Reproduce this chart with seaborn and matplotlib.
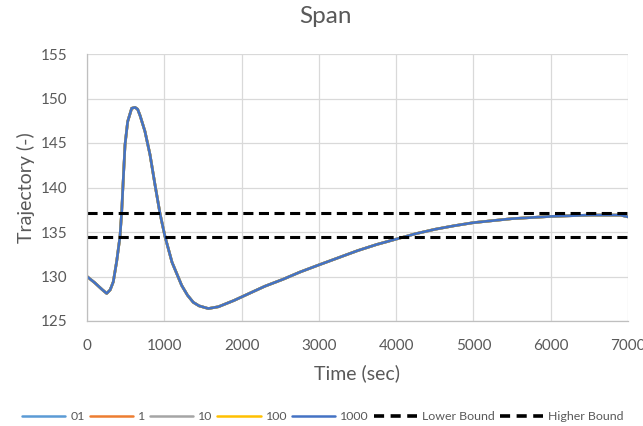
import matplotlib
matplotlib.use("Agg")
import matplotlib.pyplot as plt
from matplotlib.lines import Line2D
import seaborn as sns
import pandas as pd

# ---- data ----
time_sec = [0, 100, 200, 255, 300, 340, 384, 427, 449, 470, 492, 526, 578, 621, 655, 686, 750,
            815, 880, 944, 1009, 1100, 1225, 1300, 1375, 1450, 1570, 1700, 1900, 2100, 2300,
            2540, 2756, 3000, 3250, 3500, 3750, 4000, 4250, 4500, 4750, 5000, 5500,
            6000, 6500, 6900, 7000]
trajectory = [130.0, 129.3, 128.5, 128.1, 128.5, 129.4, 131.7, 134.5, 137.3, 141.0, 144.8,
              147.4, 148.9, 149.0, 148.8, 148.1, 146.3, 143.7, 140.3, 137.1, 134.5, 131.6, 129.0,
              127.9, 127.1, 126.7, 126.4, 126.6, 127.3, 128.1, 128.9, 129.7, 130.5, 131.3,
              132.1, 132.9, 133.6, 134.2, 134.8, 135.3, 135.7, 136.05, 136.5,
              136.75, 136.9, 136.9, 136.7]
series_names = ["01", "1", "10", "100", "1000"]
lower_bound = 134.4
higher_bound = 137.1
x_ticks = [0, 1000, 2000, 3000, 4000, 5000, 6000, 7000]
y_ticks = [125, 130, 135, 140, 145, 150, 155]

colors = ["#5B9BD5", "#ED7D31", "#A5A5A5", "#FFC000", "#4472C4"]
text_color = "#595959"

sns.set_theme(style="whitegrid")
plt.rcParams['font.family'] = ['Lato', 'DejaVu Sans']

rows = []
for name in series_names:
    for t, v in zip(time_sec, trajectory):
        rows.append({"Time": t, "Trajectory": v, "Series": name})
df = pd.DataFrame(rows)

fig = plt.figure(figsize=(6.43, 4.26), dpi=100)
ax = fig.add_axes([87/643, 1 - 321/426, (628-87)/643, (321-54)/426])

sns.lineplot(data=df, x="Time", y="Trajectory", hue="Series", hue_order=series_names,
             palette=colors, linewidth=1.9, ax=ax, legend=False)
dash = (0, (3.3, 1.8))
ax.plot([0, 7000], [lower_bound, lower_bound], color="black", linestyle=dash,
        linewidth=2.2, label="Lower Bound")
ax.plot([0, 7000], [higher_bound, higher_bound], color="black", linestyle=dash,
        linewidth=2.2, label="Higher Bound")

ax.set_xlim(0, 7000)
ax.set_ylim(125, 155)
ax.set_xticks(x_ticks)
ax.set_yticks(y_ticks)
ax.tick_params(axis='x', labelsize=11, colors=text_color, length=0, pad=13)
ax.tick_params(axis='y', labelsize=11, colors=text_color, length=0, pad=14)
ax.grid(True, color="#D9D9D9", linewidth=0.9)
for side in ["top", "right"]:
    ax.spines[side].set_visible(False)
for side in ["left", "bottom"]:
    ax.spines[side].set_color("#BFBFBF")
    ax.spines[side].set_linewidth(0.9)
ax.set_xlabel("Time (sec)", fontsize=14, color=text_color, labelpad=8)
ax.set_ylabel("Trajectory (-)", fontsize=14, color=text_color, labelpad=4)
fig.suptitle("Span", x=325/643, y=1 - 6/426, fontsize=17.5,
             color=text_color, va="top")

handles = [Line2D([], [], color=c, linewidth=1.8) for c in colors]
handles += [Line2D([], [], color="black", linewidth=2.6, linestyle=(0, (2.8, 1.8)))
            for _ in range(2)]
labels = series_names + ["Lower Bound", "Higher Bound"]
leg = fig.legend(handles, labels, loc="center", ncol=7,
                 bbox_to_anchor=(0.502, 1 - 417/426),
                 frameon=False, fontsize=8.9, handlelength=3.5, handletextpad=0.4,
                 columnspacing=0.4, borderaxespad=0, borderpad=0)
for t in leg.get_texts():
    t.set_color(text_color)

fig.savefig("out.png", dpi=100)
